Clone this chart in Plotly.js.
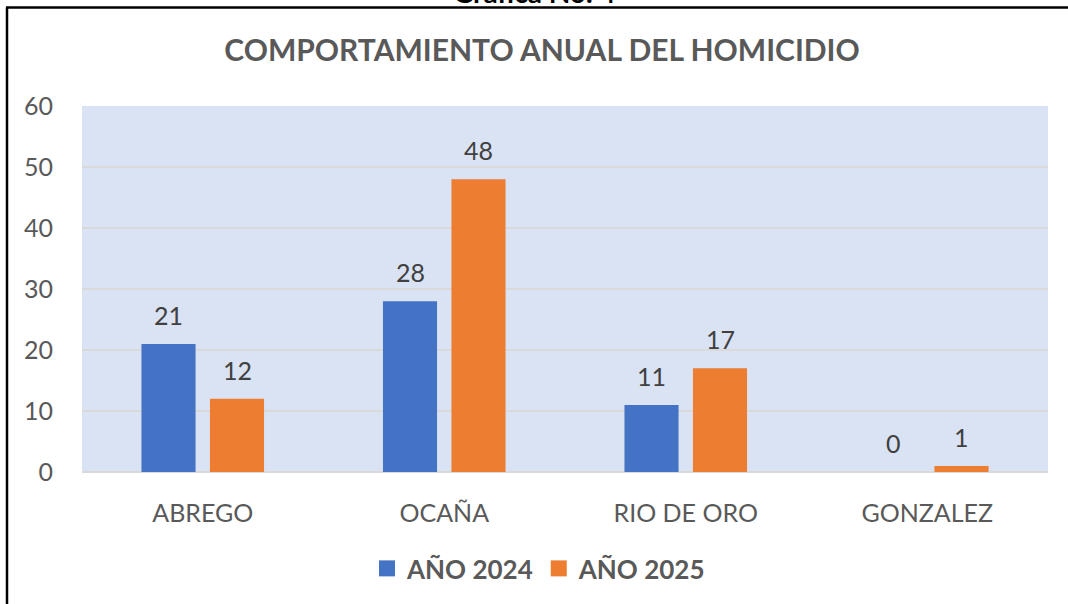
<!DOCTYPE html>
<html>
<head>
<meta charset="utf-8">
<script src="https://cdn.plot.ly/plotly-3.0.1.min.js"></script>
<style>html,body{margin:0;padding:0;background:#fff;}#chart{width:1068px;height:604px;}</style>
</head>
<body>
<div id="chart"></div>
<script>
const categories = ["ABREGO", "OCAÑA", "RIO DE ORO", "GONZALEZ"];
const values2024 = [21, 28, 11, 0];
const values2025 = [12, 48, 17, 1];
const seriesNames = ["AÑO 2024", "AÑO 2025"];
const seriesColors = ["#4472c4", "#ed7d31"];
const yTicks = [0, 10, 20, 30, 40, 50, 60];

const W = 1068, H = 604;
const m = {l: 82, r: 20, t: 106, b: 130};
const pw = W - m.l - m.r, ph = H - m.t - m.b;
const px = x => (x - m.l) / pw;
const py = y => 1 - (y - m.t) / ph;
const FONT = "Lato, 'Open Sans', sans-serif";

const series = [values2024, values2025];
const barOffsets = [-34.25, 34.25];

const traces = series.map((vals, i) => ({
  type: "bar", name: seriesNames[i], x: categories, y: vals,
  marker: {color: seriesColors[i]}, showlegend: false, hoverinfo: "x+y"
}));
// legend entries with larger square swatches
seriesNames.forEach((nm, i) => traces.push({
  type: "scatter", mode: "markers", name: nm, x: [null], y: [null],
  marker: {symbol: "square", size: 16, color: seriesColors[i]}, showlegend: true
}));

const valueLabels = [];
series.forEach((vals, i) => vals.forEach((v, j) => valueLabels.push({
  x: categories[j], y: v, xref: "x", yref: "y", text: String(v), showarrow: false,
  xshift: barOffsets[i], yshift: 12, yanchor: "bottom", xanchor: "center",
  font: {family: FONT, size: 25, color: "#404040"}
})));

const layout = {
  width: W, height: H,
  margin: m,
  paper_bgcolor: "#ffffff",
  plot_bgcolor: "#dae3f3",
  barmode: "group",
  bargap: 0.433,
  bargroupgap: 0.21,
  font: {family: FONT, color: "#595959"},
  title: {
    text: "<b>COMPORTAMIENTO ANUAL DEL HOMICIDIO</b>",
    font: {family: FONT, size: 30, color: "#595959"},
    x: px(542), xref: "paper", xanchor: "center",
    y: 1 - 50 / H, yref: "container", yanchor: "middle"
  },
  xaxis: {
    type: "category",
    tickfont: {family: FONT, size: 25, color: "#595959"},
    showgrid: false, zeroline: false, showline: false, ticks: "",
    ticklabelstandoff: 24, automargin: false
  },
  yaxis: {
    range: [0, 60],
    tickvals: yTicks, ticktext: yTicks.map(String),
    tickfont: {family: FONT, size: 25, color: "#595959"},
    gridcolor: "#d9d9d9", gridwidth: 1.5,
    zeroline: true, zerolinecolor: "#d9d9d9", zerolinewidth: 1.5,
    showline: false, ticks: "", ticklabelstandoff: 28, automargin: false
  },
  showlegend: true,
  legend: {
    orientation: "h",
    x: px(539), xanchor: "center",
    y: py(571), yanchor: "middle",
    font: {family: FONT, size: 26, color: "#595959", weight: "bold"},
    itemwidth: 30,
    bgcolor: "rgba(0,0,0,0)"
  },
  shapes: [
    {type: "line", xref: "paper", yref: "paper", x0: px(7), x1: px(7), y0: py(7), y1: py(610),
     line: {color: "#000000", width: 2.5}},
    {type: "line", xref: "paper", yref: "paper", x0: px(6), x1: px(1075), y0: py(7), y1: py(7),
     line: {color: "#000000", width: 2.5}}
  ],
  annotations: valueLabels.concat([
    {text: "<b>Gráfica No. 4</b>", xref: "paper", yref: "paper", x: px(534), y: py(-9),
     xanchor: "center", yanchor: "middle", showarrow: false,
     font: {family: FONT, size: 28, color: "#000000"}}
  ])
};

Plotly.newPlot("chart", traces, layout, {displayModeBar: false, staticPlot: true});
</script>
</body>
</html>
